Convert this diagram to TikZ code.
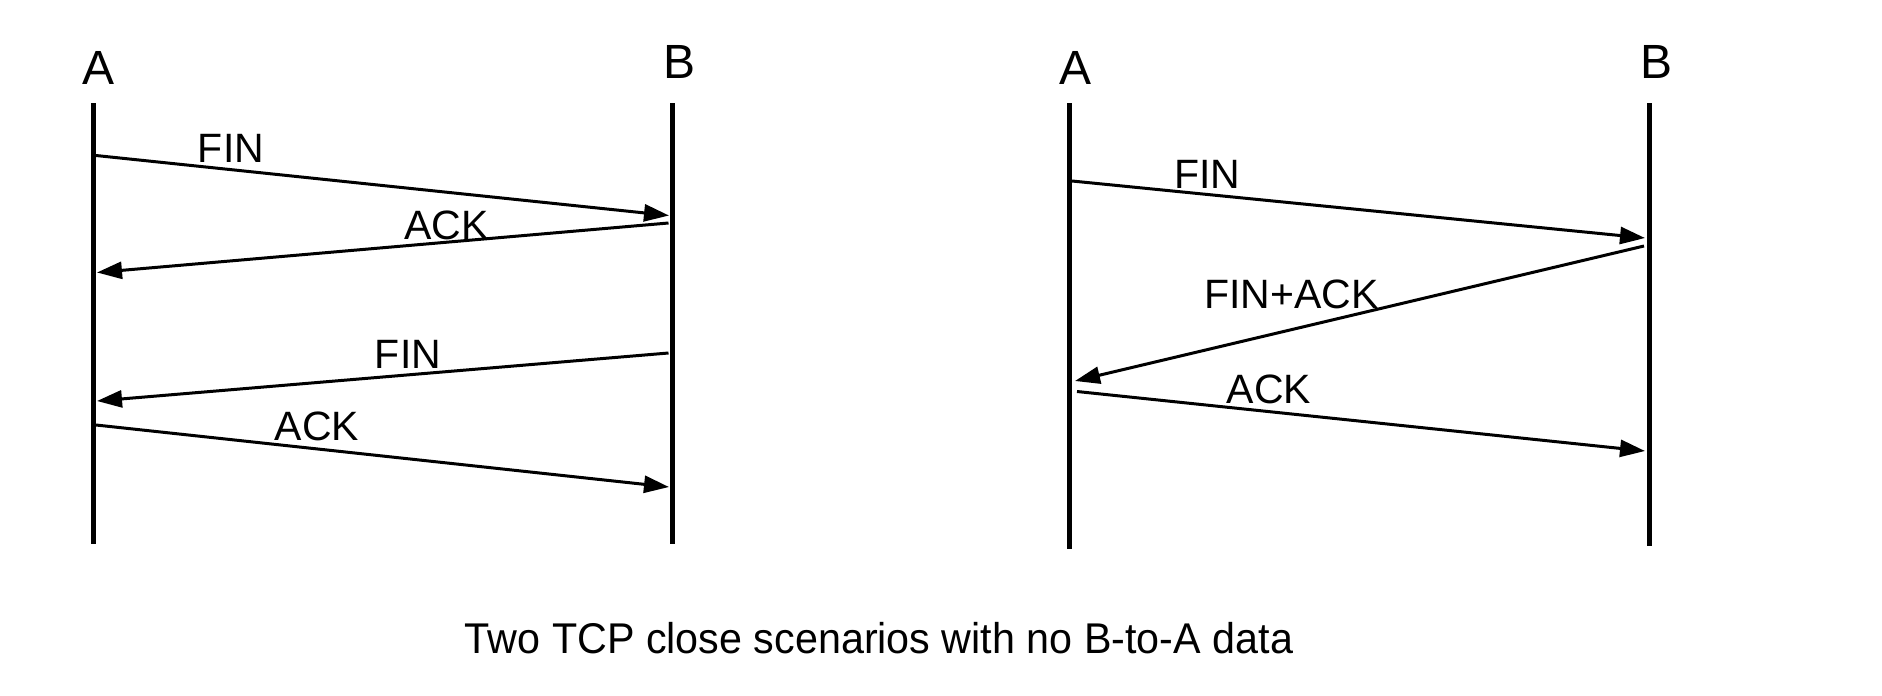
\documentclass[tikz,border=0pt]{standalone}
\usepackage{fontspec}
\setmainfont{Liberation Sans}
\usetikzlibrary{arrows.meta}
\begin{document}
\begin{tikzpicture}[x=1pt,y=-1pt,
  lifeline/.style={line width=5pt},
  msg/.style={line width=3pt,-{Triangle[length=25pt,width=17pt]}},
  endname/.style={inner sep=0pt,font=\fontsize{48}{56}\selectfont},
  msglabel/.style={inner sep=0pt,font=\fontsize{41}{48}\selectfont},
  captionlabel/.style={inner sep=0pt,xscale=0.96,font=\fontsize{43}{50}\selectfont}]
\useasboundingbox (0,0) rectangle (1882,696);
% left scenario
\node[endname] (lA) at (98.5,68) {A};
\node[endname] (lB) at (679,62) {B};
\coordinate (lAt) at (93.6,103);
\coordinate (lAb) at (93.6,544);
\coordinate (lBt) at (672.3,103);
\coordinate (lBb) at (672.3,544);
\draw[lifeline] (lAt) -- (lAb);
\draw[lifeline] (lBt) -- (lBb);
\coordinate (m1s) at (96,155.5);
\coordinate (m1e) at (669,215.5);
\coordinate (m2s) at (668.5,223);
\coordinate (m2e) at (97,272.5);
\coordinate (m3s) at (668.5,353);
\coordinate (m3e) at (97,401);
\coordinate (m4s) at (96,425);
\coordinate (m4e) at (669,487);
\draw[msg] (m1s) -- (m1e);
\draw[msg] (m2s) -- (m2e);
\draw[msg] (m3s) -- (m3e);
\draw[msg] (m4s) -- (m4e);
\node[msglabel] (l1) at (231,148.5) {FIN};
\node[msglabel] (l2) at (446.5,225.5) {ACK};
\node[msglabel] (l3) at (408,354) {FIN};
\node[msglabel] (l4) at (317,426) {ACK};
% right scenario
\node[endname] (rA) at (1075.5,68) {A};
\node[endname] (rB) at (1656,62) {B};
\coordinate (rAt) at (1069.5,103);
\coordinate (rAb) at (1069.5,548.5);
\coordinate (rBt) at (1649.2,103);
\coordinate (rBb) at (1649.2,546);
\draw[lifeline] (rAt) -- (rAb);
\draw[lifeline] (rBt) -- (rBb);
\coordinate (n1s) at (1072,181);
\coordinate (n1e) at (1645,238);
\coordinate (n2s) at (1644,246);
\coordinate (n2e) at (1075,381);
\coordinate (n3s) at (1077,391.5);
\coordinate (n3e) at (1645,451);
\draw[msg] (n1s) -- (n1e);
\draw[msg] (n2s) -- (n2e);
\draw[msg] (n3s) -- (n3e);
\node[msglabel] (r1) at (1207.5,174) {FIN};
\node[msglabel] (r2) at (1291.5,294) {FIN+ACK};
\node[msglabel] (r3) at (1269,389) {ACK};
% caption
\node[captionlabel] (cap) at (879,638) {Two TCP close scenarios with no B-to-A data};
\end{tikzpicture}
\end{document}
